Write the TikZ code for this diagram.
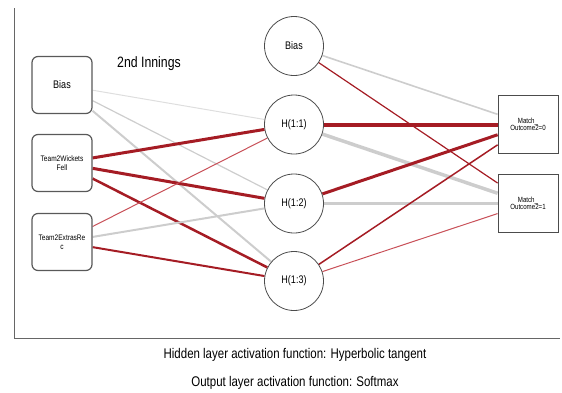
\documentclass[tikz,border=0pt]{standalone}
\usepackage{fontspec}
\usetikzlibrary{backgrounds}
\setmainfont{Liberation Sans}
\newfontfamily\narrowsans[FakeStretch=0.82]{Liberation Sans}
\begin{document}
\begin{tikzpicture}[x=1pt,y=-1pt,
  inbox/.style={draw=black!65,fill=white,line width=1.2pt,rounded corners=6pt,minimum width=60pt,minimum height=57pt,inner sep=1pt,align=center},
  hid/.style={draw=black!70,fill=white,line width=0.8pt,circle,minimum size=59pt,inner sep=0pt,font=\narrowsans\fontsize{11}{12}\selectfont},
  outbox/.style={draw=black!70,fill=white,line width=0.8pt,minimum width=60pt,minimum height=58pt,inner sep=1pt,align=center,font=\narrowsans\fontsize{7.5}{8}\selectfont},
  wpos/.style={draw={rgb,255:red,165;green,28;blue,36}},
  wposlt/.style={draw={rgb,255:red,200;green,80;blue,88}},
  wneg/.style={draw={rgb,255:red,205;green,205;blue,205}},
  wneglt/.style={draw={rgb,255:red,222;green,222;blue,222}}]
\useasboundingbox (0,0) rectangle (562,392);
% axes frame
\draw[black!60,line width=1pt] (14,8) -- (14,338) -- (560,338);
% input layer
\node[inbox,font=\narrowsans\fontsize{11}{12}\selectfont] (ib) at (62,85) {Bias};
\node[inbox,font=\narrowsans\fontsize{8}{9}\selectfont] (iw) at (62,163) {Team2Wickets\\Fell};
\node[inbox,font=\narrowsans\fontsize{8}{9}\selectfont] (ie) at (62,242) {Team2ExtrasRe\\c};
% hidden layer
\node[hid] (hb) at (294,46) {Bias};
\node[hid] (h1) at (294,124.5) {H(1:1)};
\node[hid] (h2) at (294,203.5) {H(1:2)};
\node[hid] (h3) at (294,281) {H(1:3)};
% output layer
\node[outbox] (o1) at (528,124.5) {Match\_\\[-1pt]Outcome2=0};
\node[outbox] (o2) at (528,203.5) {Match\_\\[-1pt]Outcome2=1};
% title and captions
\node[font=\narrowsans\fontsize{15}{16}\selectfont] (ttl) at (149,64) {2nd Innings};
\node[font=\narrowsans\fontsize{14}{15}\selectfont] (cap1) at (295,355) {Hidden layer activation function: Hyperbolic tangent};
\node[font=\narrowsans\fontsize{14}{15}\selectfont] (cap2) at (295,383) {Output layer activation function: Softmax};
\begin{pgfonlayer}{background}
% input to hidden synapses
\draw[wneglt,line width=1pt] (ib) -- (h1);
\draw[wneg,line width=1.2pt] (ib) -- (h2);
\draw[wneg,line width=2pt] (ib) -- (h3);
\draw[wpos,line width=3pt] (iw) -- (h1);
\draw[wpos,line width=3pt] (iw) -- (h2);
\draw[wpos,line width=2.5pt] (iw) -- (h3);
\draw[wposlt,line width=1pt] (ie) -- (h1);
\draw[wneg,line width=2pt] (ie) -- (h2);
\draw[wpos,line width=2pt] (ie) -- (h3);
% hidden to output synapses
\draw[wneg,line width=1.6pt] (hb) -- (o1);
\draw[wpos,line width=1.2pt] (hb) -- (o2);
\draw[wneg,line width=3.5pt] (h1) -- (o2);
\draw[wneg,line width=3pt] (h2) -- (o2);
\draw[wpos,line width=4pt] (h1) -- (o1);
\draw[wpos,line width=3pt] (h2) -- (o1);
\draw[wpos,line width=1.5pt] (h3) -- (o1);
\draw[wposlt,line width=1pt] (h3) -- (o2);
\end{pgfonlayer}
\end{tikzpicture}
\end{document}
